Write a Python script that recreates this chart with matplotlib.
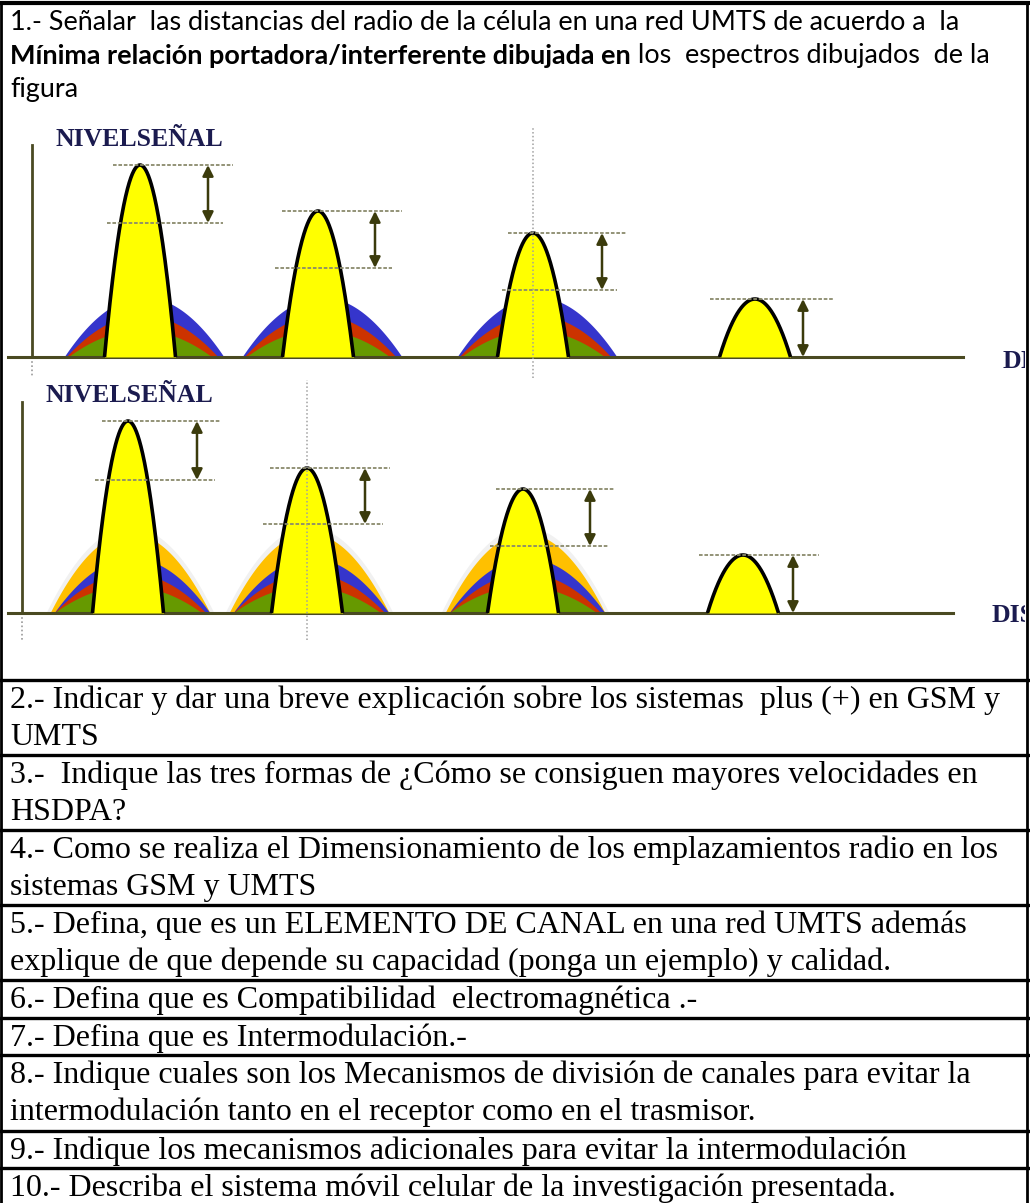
import matplotlib
matplotlib.use("Agg")
import matplotlib.pyplot as plt
import numpy as np

W, H = 1030, 1203

# question 1 (the one with the figure)
q1_line1 = "1.- Señalar  las distancias del radio de la célula en una red UMTS de acuerdo a  la"
q1_bold = "Mínima relación portadora/interferente dibujada en"
q1_rest = " los  espectros dibujados  de la"
q1_line3 = "figura"

# remaining questions, one list per table row
questions = [
    ["2.- Indicar y dar una breve explicación sobre los sistemas  plus (+) en GSM y", "UMTS"],
    ["3.-  Indique las tres formas de ¿Cómo se consiguen mayores velocidades en", "HSDPA?"],
    ["4.- Como se realiza el Dimensionamiento de los emplazamientos radio en los", "sistemas GSM y UMTS"],
    ["5.- Defina, que es un ELEMENTO DE CANAL en una red UMTS además",
     "explique de que depende su capacidad (ponga un ejemplo) y calidad."],
    ["6.- Defina que es Compatibilidad  electromagnética .-"],
    ["7.- Defina que es Intermodulación.-"],
    ["8.- Indique cuales son los Mecanismos de división de canales para evitar la",
     "intermodulación tanto en el receptor como en el trasmisor."],
    ["9.- Indique los mecanismos adicionales para evitar la intermodulación"],
    ["10.- Describa el sistema móvil celular de la investigación presentada."],
]

y_label = "NIVELSEÑAL"
x_label = "DISTANCIA"

# upper spectrum: carrier position along distance, carrier level, C/I reference level
top_pos = [140, 318, 533, 755]
top_level = [192, 146, 124, 58]
top_ci = [134, 89, 67, 0]
top_interf_level = [60, 42, 27]      # blue, red, green interferers
top_interf_width = [80, 76, 72]

# lower spectrum
bot_pos = [128, 307, 523, 743]
bot_level = [192, 145, 124, 58]
bot_ci = [133, 89, 67, 0]
bot_interf_level = [80, 55, 40, 27]  # orange, blue, red, green interferers
bot_interf_width = [80, 78, 76, 74]

carrier_width = 35.5

fig = plt.figure(figsize=(W / 100, H / 100), dpi=100)
base = fig.add_axes([0, 0, 1, 1])
base.set_xlim(0, W)
base.set_ylim(H, 0)
base.axis("off")
renderer = fig.canvas.get_renderer()


def fit_text(x, y, s, width, **kw):
    t = base.text(x, y, s, fontsize=20, **kw)
    w = t.get_window_extent(renderer).width
    t.set_fontsize(20 * width / w)
    return t


def text_width(t):
    return t.get_window_extent(renderer).width


# ---- table frame ----
base.plot([1, 1], [2, H], color="black", lw=2)
base.plot([1027, 1027], [2, H], color="black", lw=2)
base.plot([0, 1028], [2.5, 2.5], color="black", lw=3)
row_tops = [680, 755, 830, 905, 980, 1018, 1055, 1131, 1168]
for yt in row_tops:
    base.plot([0, 1028], [yt, yt], color="black", lw=2.4)

# ---- question 1 text ----
sans = "Lato"
t = fit_text(10, 23, q1_line1, 952, family=sans, va="center")
fs1 = t.get_fontsize()
tb = base.text(10, 56, q1_bold, fontsize=fs1, family=sans, weight="bold", va="center")
base.text(10 + text_width(tb), 56, q1_rest, fontsize=fs1, family=sans, va="center")
base.text(10, 89, q1_line3, fontsize=fs1, family=sans, va="center")

# ---- other questions ----
serif = "Liberation Serif"
t = fit_text(10, 0, questions[0][0], 990, family=serif, va="center")
fs2 = t.get_fontsize()
t.remove()
for yt, lines in zip(row_tops, questions):
    for i, line in enumerate(lines):
        base.text(10, yt + 20 + 37.5 * i, line, fontsize=fs2, family=serif, va="center")


# ---- spectrum panels ----
def panel(top_px, bottom_px, baseline_px):
    ax = fig.add_axes([0, 1 - bottom_px / H, 1025 / W, (bottom_px - top_px) / H])
    ax.set_xlim(0, 1025)
    ax.set_ylim(-(bottom_px - baseline_px), baseline_px - top_px)
    ax.axis("off")
    return ax


def parabola(ax, c, lvl, w, color, z, outline=False):
    x = np.linspace(c - w, c + w, 300)
    y = lvl * (1 - ((x - c) / w) ** 2)
    ax.fill_between(x, 0, y, color=color, lw=0, zorder=z)
    if outline:
        ax.plot(x, y, color="black", lw=2.6, zorder=z + 0.5, solid_capstyle="butt")


dash_col = "#8a8a6c"
arrow_col = "#3b3b0c"
olive = "#4a4a22"
label_col = "#1b1b4f"


def spectrum(ax, pos, level, ci, ilev, iwid, icolors, ishift, halo,
             top_ext, low_ext, arrow_dx):
    for k, (c, lv, cr) in enumerate(zip(pos, level, ci)):
        if k < 3:
            if halo:
                parabola(ax, c + 2, ilev[0] * 1.08, iwid[0] + 4, "#f1f1f1", 1)
            for lvl, w, col, sh in zip(ilev, iwid, icolors, ishift):
                parabola(ax, c + sh, lvl, w, col, 2)
        parabola(ax, c, lv, carrier_width, "#ffff00", 3, outline=True)
        a, b = top_ext[k]
        ax.plot([c + a, c + b], [lv, lv], color=dash_col, lw=1.3, ls=(0, (2, 1)), zorder=4)
        if cr > 0:
            a, b = low_ext[k]
            ax.plot([c + a, c + b], [cr, cr], color=dash_col, lw=1.3, ls=(0, (2, 1)), zorder=4)
        ax.annotate("", xy=(c + arrow_dx[k], cr), xytext=(c + arrow_dx[k], lv),
                    arrowprops=dict(arrowstyle="<|-|>", color=arrow_col, lw=1.8,
                                    mutation_scale=16, shrinkA=0, shrinkB=0), zorder=5)


# upper panel
ax1 = panel(120, 385, 357)
ax1.plot([8, 963], [0, 0], color=olive, lw=2.2, zorder=2.5)
ax1.plot([32, 32], [0, 212], color=olive, lw=2)
ax1.plot([32, 32], [0, -19], color="#999999", lw=1.2, ls=(0, (1, 1.5)))
ax1.plot([533, 533], [-21, 229], color="#a0a0a0", lw=1.1, ls=(0, (1, 1.5)), zorder=6)
spectrum(ax1, top_pos, top_level, top_ci, top_interf_level, top_interf_width,
         ["#3535cc", "#cc3300", "#669900"], [4, 2, 0], False,
         [(-27, 93), (-36, 84), (-25, 94), (-45, 78)],
         [(-33, 83), (-43, 74), (-31, 84)],
         [68, 57, 69, 48])
ax1.text(55, 357 - 139, y_label, family=serif, weight="bold", fontsize=18.5,
         color=label_col, va="center")
ax1.text(1003, -5, x_label, family=serif, weight="bold", fontsize=18.5,
         color=label_col, va="center", clip_on=True)

# lower panel
ax2 = panel(372, 645, 613)
ax2.plot([8, 953], [0, 0], color=olive, lw=2.2, zorder=2.5)
ax2.plot([22, 22], [0, 211], color=olive, lw=2)
ax2.plot([22, 22], [0, -27], color="#999999", lw=1.2, ls=(0, (1, 1.5)))
ax2.plot([307, 307], [-27, 233], color="#a0a0a0", lw=1.1, ls=(0, (1, 1.5)), zorder=6)
spectrum(ax2, bot_pos, bot_level, bot_ci, bot_interf_level, bot_interf_width,
         ["#ffc000", "#3535cc", "#cc3300", "#669900"], [2, 4, 2, 0], True,
         [(-26, 93), (-37, 83), (-27, 92), (-44, 76)],
         [(-33, 87), (-44, 76), (-33, 86)],
         [69, 58, 67, 50])
ax2.text(45, 613 - 395, y_label, family=serif, weight="bold", fontsize=18.5,
         color=label_col, va="center")
ax2.text(992, -2, x_label, family=serif, weight="bold", fontsize=18.5,
         color=label_col, va="center", clip_on=True)

fig.savefig("out.png", dpi=100)
